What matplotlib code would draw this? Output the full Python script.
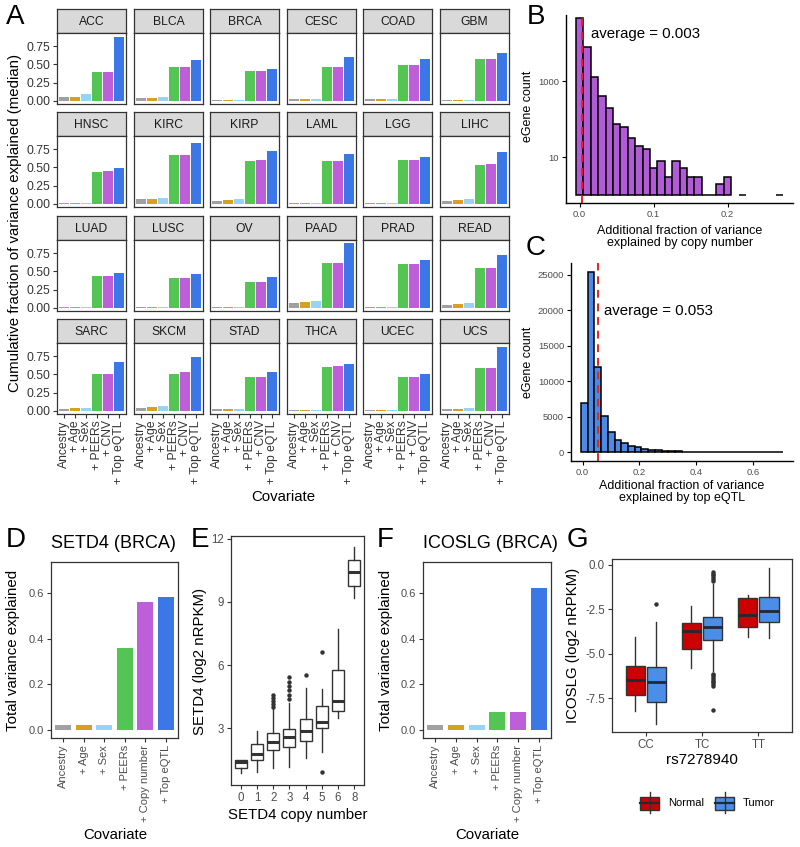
import matplotlib
matplotlib.use('Agg')
import matplotlib.pyplot as plt
import numpy as np
from matplotlib.patches import Rectangle

plt.rcParams['font.family'] = ['Liberation Sans', 'DejaVu Sans']
plt.rcParams['axes.unicode_minus'] = False

# ---------------- data ----------------
cancers = ["ACC", "BLCA", "BRCA", "CESC", "COAD", "GBM",
           "HNSC", "KIRC", "KIRP", "LAML", "LGG", "LIHC",
           "LUAD", "LUSC", "OV", "PAAD", "PRAD", "READ",
           "SARC", "SKCM", "STAD", "THCA", "UCEC", "UCS"]
covariates_A = ["Ancestry", "+ Age", "+ Sex", "+ PEERs", "+ CNV", "+ Top eQTL"]
ancestry = [0.05, 0.04, 0.01, 0.02, 0.02, 0.01, 0.005, 0.06, 0.04, 0.01, 0.01, 0.04,
            0.005, 0.005, 0.005, 0.07, 0.01, 0.04, 0.03, 0.04, 0.02, 0.01, 0.01, 0.03]
age = [0.05, 0.04, 0.01, 0.02, 0.03, 0.01, 0.01, 0.07, 0.05, 0.01, 0.01, 0.05,
       0.005, 0.01, 0.005, 0.08, 0.01, 0.05, 0.04, 0.05, 0.02, 0.01, 0.01, 0.03]
sex = [0.09, 0.05, 0.01, 0.03, 0.03, 0.01, 0.01, 0.08, 0.06, 0.01, 0.01, 0.06,
       0.005, 0.01, 0.005, 0.10, 0.01, 0.06, 0.04, 0.06, 0.03, 0.01, 0.01, 0.04]
peers = [0.40, 0.46, 0.41, 0.47, 0.49, 0.57, 0.44, 0.67, 0.59, 0.59, 0.60, 0.53,
         0.44, 0.41, 0.36, 0.61, 0.60, 0.55, 0.50, 0.51, 0.46, 0.60, 0.46, 0.59]
cnv = [0.40, 0.46, 0.41, 0.47, 0.49, 0.57, 0.45, 0.67, 0.60, 0.59, 0.60, 0.54,
       0.44, 0.41, 0.36, 0.62, 0.60, 0.55, 0.51, 0.53, 0.46, 0.61, 0.46, 0.59]
top_eqtl = [0.87, 0.56, 0.43, 0.60, 0.57, 0.66, 0.49, 0.83, 0.72, 0.68, 0.64, 0.71,
            0.48, 0.47, 0.42, 0.89, 0.66, 0.73, 0.67, 0.74, 0.53, 0.64, 0.51, 0.88]
cov_colors = ['#a0a0a0', '#d8a020', '#96d3f5', '#52c552', '#bd5fd9', '#3b77e6']

# Panel B: histogram (bin width 0.01)
b_centers = [0.00, 0.01, 0.02, 0.03, 0.04, 0.05, 0.06, 0.07, 0.08, 0.09, 0.10, 0.11,
             0.12, 0.13, 0.14, 0.15, 0.16, 0.17, 0.18, 0.19, 0.20, 0.22, 0.27]
b_counts = [46500, 7900, 1300, 400, 190, 75, 60, 32, 19, 16, 5, 8,
            3, 8, 5, 3, 3, 1, 1, 2, 3, 1, 1]
b_average = 0.003

# Panel C: histogram
c_left_edge = -0.006
c_binwidth = 0.0237
c_counts = [6850, 25400, 12000, 5100, 2830, 1750, 1230, 900, 660, 470, 330, 240,
            170, 120, 90, 70, 50, 40, 30, 20, 15, 10, 8, 6, 5, 3, 2, 2, 1, 1]
c_average = 0.053

# Panel D / F
covariates_DF = ["Ancestry", "+ Age", "+ Sex", "+ PEERs", "+ Copy number", "+ Top eQTL"]
setd4_var = [0.02, 0.02, 0.02, 0.36, 0.56, 0.58]
icoslg_var = [0.02, 0.02, 0.02, 0.08, 0.08, 0.62]

# Panel E: boxplot stats by copy number
e_labels = ["0", "1", "2", "3", "4", "5", "6", "8"]
e_q1 = [1.10, 1.50, 1.97, 2.10, 2.40, 3.03, 3.84, 9.75]
e_med = [1.42, 1.77, 2.37, 2.57, 2.87, 3.32, 4.30, 10.42]
e_q3 = [1.50, 2.26, 2.79, 2.98, 3.44, 4.06, 5.78, 10.97]
e_wlo = [0.87, 0.92, 1.10, 1.18, 1.58, 1.90, 3.47, 9.17]
e_whi = [1.50, 2.89, 3.90, 4.20, 4.90, 4.85, 7.70, 11.60]
e_out = [[], [], [4.0, 4.15, 4.3, 4.45, 4.6], [4.4, 4.6, 4.8, 5.0, 5.2, 5.45], [5.53],
         [6.63, 0.92], [], []]

# Panel G: boxplot stats by genotype
g_labels = ["CC", "TC", "TT"]
g_norm_q1 = [-7.33, -4.72, -3.47]
g_norm_med = [-6.49, -3.71, -2.80]
g_norm_q3 = [-5.67, -3.25, -1.88]
g_norm_wlo = [-8.23, -5.80, -4.03]
g_norm_whi = [-4.03, -2.29, -1.70]
g_norm_out = [[], [], []]
g_tum_q1 = [-7.69, -4.22, -3.23]
g_tum_med = [-6.59, -3.49, -2.59]
g_tum_q3 = [-5.75, -2.95, -1.79]
g_tum_wlo = [-8.94, -5.95, -4.12]
g_tum_whi = [-3.19, -1.10, -0.19]
g_tum_out = [[-2.22],
             [-0.40, -0.50, -0.60, -0.70, -0.80, -0.92, -6.10, -6.20, -6.30, -6.40, -6.50,
              -6.60, -6.70, -6.82, -8.13],
             []]

# ---------------- figure ----------------
W, H = 800, 847
fig = plt.figure(figsize=(8, 8.47), dpi=100)


def axpx(x0, y0, x1, y1):
    return fig.add_axes([x0 / W, 1 - y1 / H, (x1 - x0) / W, (y1 - y0) / H])


def ftext(x, y, s, **kw):
    return fig.text(x / W, 1 - y / H, s, **kw)


FRAME = '#333333'
TICKC = '#4d4d4d'

# ---------- Panel A ----------
col_x = [57, 134, 210, 287, 363, 440]
row_y = [9, 112, 216, 319]
pw, sh, ph = 69, 24, 71
values_A = np.array([ancestry, age, sex, peers, cnv, top_eqtl]).T
for i, name in enumerate(cancers):
    r, c = divmod(i, 6)
    x0, y0 = col_x[c], row_y[r]
    st = axpx(x0, y0, x0 + pw, y0 + sh)
    st.set_facecolor('#d9d9d9')
    st.set_xticks([]); st.set_yticks([])
    for s in st.spines.values():
        s.set_color(FRAME); s.set_linewidth(0.9)
    st.text(0.5, 0.47, name, ha='center', va='center', fontsize=8.7, color='#1a1a1a',
            transform=st.transAxes)
    ax = axpx(x0, y0 + sh, x0 + pw, y0 + sh + ph)
    ax.bar(np.arange(6), values_A[i], width=0.9, color=cov_colors)
    ax.set_xlim(-0.6, 5.6)
    ax.set_ylim(-0.044, 0.93)
    for s in ax.spines.values():
        s.set_color(FRAME); s.set_linewidth(0.9)
    ax.tick_params(length=3, width=0.8, color=FRAME, labelcolor='#333333', labelsize=8.7, pad=1.5)
    if c == 0:
        ax.set_yticks([0, 0.25, 0.5, 0.75])
        ax.set_yticklabels(["0.00", "0.25", "0.50", "0.75"])
    else:
        ax.set_yticks([])
    if r == 3:
        ax.set_xticks(np.arange(6))
        ax.set_xticklabels(covariates_A, rotation=90, fontsize=8.7)
    else:
        ax.set_xticks([])

ftext(15, 223, "Cumulative fraction of variance explained (median)", rotation=90,
      ha='center', va='center', fontsize=10.8)
ftext(283, 497, "Covariate", ha='center', va='center', fontsize=10.8)

# ---------- Panel B ----------
axb = axpx(566, 15, 793, 203)
axb.set_yscale('log')
bc = np.array(b_counts, dtype=float)
axb.bar(b_centers, bc - 1, bottom=1, width=0.01, color='#b15cd6', edgecolor='black',
        linewidth=1.1, align='center')
axb.set_xlim(-0.0185, 0.2885)
axb.set_ylim(10 ** -0.21, 10 ** 4.74)
axb.axvline(b_average, color='#e3261f', ls=(0, (4, 3)), lw=1.4)
axb.set_yticks([10, 1000])
axb.set_yticklabels(["10", "1000"])
axb.yaxis.set_minor_locator(matplotlib.ticker.NullLocator())
axb.set_xticks([0, 0.1, 0.2])
axb.set_xticklabels(["0.0", "0.1", "0.2"])
for s in ['top', 'right']:
    axb.spines[s].set_visible(False)
for s in ['left', 'bottom']:
    axb.spines[s].set_linewidth(1.0)
axb.tick_params(length=3, width=0.8, labelsize=6.8, labelcolor=TICKC, pad=2)
ftext(591, 34, "average = 0.003", ha='left', va='center', fontsize=10.8)
ftext(528, 106, "eGene count", rotation=90, ha='center', va='center', fontsize=9)
ftext(680, 237, "Additional fraction of variance\nexplained by copy number",
      ha='center', va='center', fontsize=9, linespacing=1.05)

# ---------- Panel C ----------
axc = axpx(571, 263, 793, 461)
c_lefts = c_left_edge + c_binwidth * np.arange(len(c_counts))
axc.bar(c_lefts, c_counts, width=c_binwidth, align='edge', color='#4e89e8',
        edgecolor='black', linewidth=1.1)
axc.set_xlim(-0.041, 0.741)
axc.set_ylim(-1270, 26670)
axc.axvline(c_average, color='#e3261f', ls=(0, (4, 3)), lw=1.4)
axc.set_yticks([0, 5000, 10000, 15000, 20000, 25000])
axc.set_yticklabels(["0", "5000", "10000", "15000", "20000", "25000"])
axc.set_xticks([0, 0.2, 0.4, 0.6])
axc.set_xticklabels(["0.0", "0.2", "0.4", "0.6"])
for s in ['top', 'right']:
    axc.spines[s].set_visible(False)
for s in ['left', 'bottom']:
    axc.spines[s].set_linewidth(1.0)
axc.tick_params(length=3, width=0.8, labelsize=6.8, labelcolor=TICKC, pad=2)
ftext(604, 311, "average = 0.053", ha='left', va='center', fontsize=10.8)
ftext(528, 362, "eGene count", rotation=90, ha='center', va='center', fontsize=9)
ftext(682, 492, "Additional fraction of variance\nexplained by top eQTL",
      ha='center', va='center', fontsize=9, linespacing=1.05)

# ---------- Panels D & F ----------
def varpanel(box, values, title, tx, ylab_x, cov_x):
    ax = axpx(*box)
    ax.bar(np.arange(6), values, width=0.78, color=cov_colors)
    ax.set_xlim(-0.6, 5.6)
    ax.set_ylim(-0.035, 0.735)
    ax.set_yticks([0, 0.2, 0.4, 0.6])
    ax.set_yticklabels(["0.0", "0.2", "0.4", "0.6"])
    ax.set_xticks(np.arange(6))
    ax.set_xticklabels(covariates_DF, rotation=90, fontsize=8)
    for s in ax.spines.values():
        s.set_color(FRAME); s.set_linewidth(0.9)
    ax.tick_params(length=3, width=0.8, color=FRAME, labelcolor=TICKC, labelsize=8, pad=2)
    ftext(tx, 543, title, ha='left', va='center', fontsize=13)
    ftext(ylab_x, (box[1] + box[3]) / 2, "Total variance explained", rotation=90,
          ha='center', va='center', fontsize=10.8)
    ftext(cov_x, 835, "Covariate", ha='center', va='center', fontsize=10.8)
    return ax

varpanel((51, 562, 178, 738), setd4_var, "SETD4 (BRCA)", 51, 13, 115)
varpanel((423, 562, 551, 738), icoslg_var, "ICOSLG (BRCA)", 423, 386, 487)

# ---------- Panel E ----------
axe = axpx(231, 536, 364, 785)
e_stats = []
for k in range(len(e_labels)):
    e_stats.append(dict(q1=e_q1[k], med=e_med[k], q3=e_q3[k], whislo=e_wlo[k],
                        whishi=e_whi[k], fliers=e_out[k]))
axe.bxp(e_stats, positions=np.arange(len(e_labels)), widths=0.75, showcaps=False,
        patch_artist=True,
        boxprops=dict(facecolor='white', edgecolor='#333333', linewidth=1.0),
        whiskerprops=dict(color='#333333', linewidth=1.0),
        medianprops=dict(color='#333333', linewidth=2.2),
        flierprops=dict(marker='o', markersize=2.2, markerfacecolor='#333333',
                        markeredgecolor='#333333'))
axe.set_xlim(-0.6, 7.6)
axe.set_ylim(0.31, 12.13)
axe.set_yticks([3, 6, 9, 12])
axe.set_yticklabels(["3", "6", "9", "12"])
axe.set_xticks(np.arange(len(e_labels)))
axe.set_xticklabels(e_labels)
for s in axe.spines.values():
    s.set_color(FRAME); s.set_linewidth(0.9)
axe.tick_params(length=3, width=0.8, color=FRAME, labelcolor=TICKC, labelsize=8.3, pad=2)
ftext(200, 661, "SETD4 (log2 nRPKM)", rotation=90, ha='center', va='center', fontsize=10.8)
ftext(298, 815, "SETD4 copy number", ha='center', va='center', fontsize=10.8)

# ---------- Panel G ----------
axg = axpx(612, 559, 792, 732)
col_norm, col_tum = '#cc0000', '#4a8ee8'
for grp, (q1, md, q3, wl, wh, out, off, col) in enumerate([
        (g_norm_q1, g_norm_med, g_norm_q3, g_norm_wlo, g_norm_whi, g_norm_out, -0.19, col_norm),
        (g_tum_q1, g_tum_med, g_tum_q3, g_tum_wlo, g_tum_whi, g_tum_out, 0.19, col_tum)]):
    stats = [dict(q1=q1[k], med=md[k], q3=q3[k], whislo=wl[k], whishi=wh[k], fliers=out[k])
             for k in range(3)]
    axg.bxp(stats, positions=np.arange(3) + off, widths=0.34, showcaps=False,
            patch_artist=True,
            boxprops=dict(facecolor=col, edgecolor='#333333', linewidth=1.0),
            whiskerprops=dict(color='#333333', linewidth=1.0),
            medianprops=dict(color='#1f2a33', linewidth=2.0),
            flierprops=dict(marker='o', markersize=2.2, markerfacecolor='#333333',
                            markeredgecolor='#333333'))
axg.set_xlim(-0.6, 2.6)
axg.set_ylim(-9.38, 0.32)
axg.set_yticks([0, -2.5, -5, -7.5])
axg.set_yticklabels(["0.0", "-2.5", "-5.0", "-7.5"])
axg.set_xticks(np.arange(3))
axg.set_xticklabels(g_labels)
for s in axg.spines.values():
    s.set_color(FRAME); s.set_linewidth(0.9)
axg.tick_params(length=3, width=0.8, color=FRAME, labelcolor=TICKC, labelsize=8.3, pad=2)
ftext(573, 645, "ICOSLG (log2 nRPKM)", rotation=90, ha='center', va='center', fontsize=10.8)
ftext(702, 760, "rs7278940", ha='center', va='center', fontsize=11)

# legend for G (drawn in a pixel-space overlay axes)
axl = axpx(600, 785, 800, 821)
axl.set_xlim(600, 800)
axl.set_ylim(821, 785)
axl.axis('off')
for kx, col, lab in [(640, col_norm, "Normal"), (715, col_tum, "Tumor")]:
    axl.plot([kx + 9.5, kx + 9.5], [792, 813], color='#333333', lw=1.0)
    axl.add_patch(Rectangle((kx, 796.5), 19, 13, facecolor=col, edgecolor='#333333', lw=1.0))
    axl.plot([kx, kx + 19], [803, 803], color='#1f2a33', lw=1.6)
    axl.text(kx + 28, 803, lab, ha='left', va='center', fontsize=8)

# ---------- panel letters ----------
for lab, x, y in [("A", 15, 17), ("B", 536, 17), ("C", 536, 248), ("D", 16, 540),
                  ("E", 200, 540), ("F", 385, 540), ("G", 577, 540)]:
    ftext(x, y, lab, ha='center', va='center', fontsize=20)

fig.savefig('out.png', dpi=100)
